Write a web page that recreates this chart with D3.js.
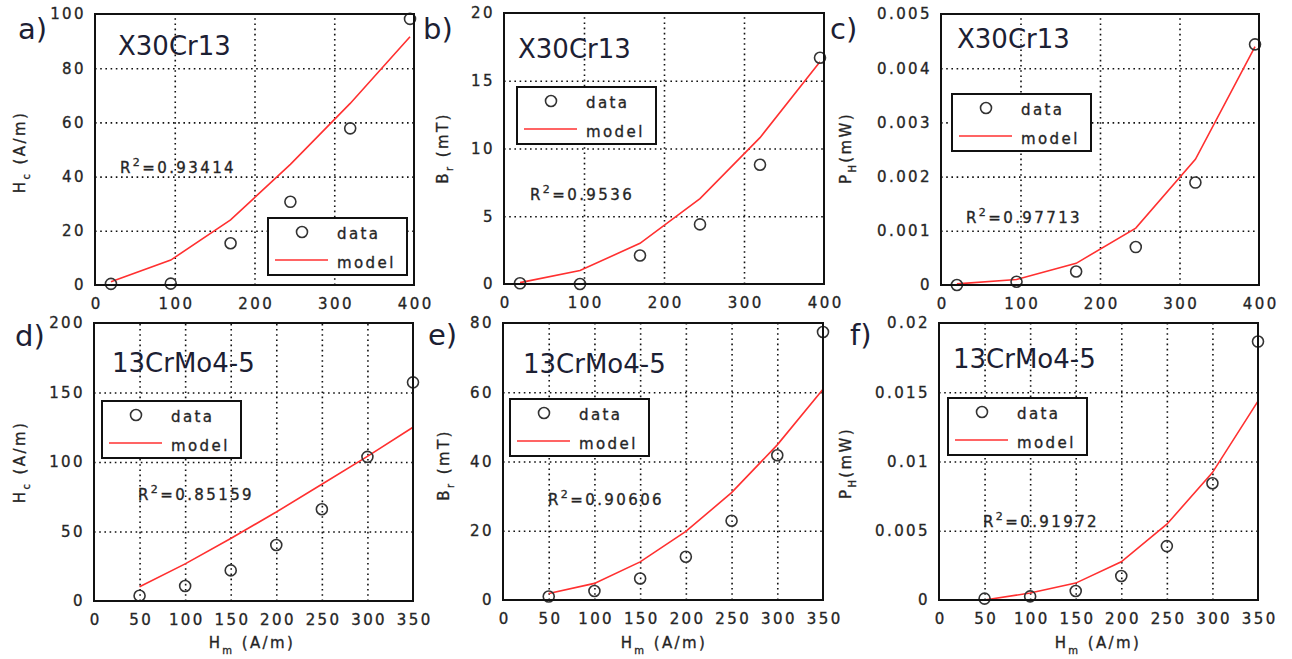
<!DOCTYPE html>
<html>
<head>
<meta charset="utf-8">
<script src="https://cdn.jsdelivr.net/npm/d3@7"></script>
<style>
  body { margin: 0; background: #fff; }
  text { font-family: "DejaVu Sans", sans-serif; }
  .lab { stroke: #333; stroke-width: 0.35px; }
</style>
</head>
<body>
<svg id="chart" width="1292" height="659"></svg>
<script>
// Excitation field values (A/m)
var xTop = [20, 95, 170, 245, 320, 395];
var xBottom = [50, 100, 150, 200, 250, 300, 350];

// X30Cr13
var hcX30Data = [0.4, 0.5, 15.4, 30.7, 57.8, 98.2];
var hcX30Model = [1.2, 9.2, 24, 44.5, 67, 91.6];
var brX30Data = [0.05, 0, 2.1, 4.4, 8.8, 16.7];
var brX30Model = [0.1, 1.0, 3.0, 6.3, 10.8, 16.4];
var phX30Data = [0, 0.00006, 0.00025, 0.0007, 0.00189, 0.00444];
var phX30Model = [0.00002, 0.0001, 0.0004, 0.00105, 0.00232, 0.0044];

// 13CrMo4-5
var hcCrMoData = [3.8, 10.8, 22, 40.3, 66, 103.7, 157.3];
var hcCrMoModel = [10.3, 26.7, 45, 64, 84, 104, 125];
var brCrMoData = [1, 2.6, 6.2, 12.5, 22.9, 41.8, 77.4];
var brCrMoModel = [1.9, 4.8, 11, 19.8, 31, 44.8, 60.9];
var phCrMoData = [0.0001, 0.00026, 0.00065, 0.00173, 0.00389, 0.00843, 0.01866];
var phCrMoModel = [0, 0.0005, 0.00122, 0.00276, 0.00547, 0.0092, 0.01436];

// Tick labels
var xTicksTop = [0, 100, 200, 300, 400];
var xTicksBottom = [0, 50, 100, 150, 200, 250, 300, 350];
var yTicksHc1 = [0, 20, 40, 60, 80, 100];
var yTicksBr1 = [0, 5, 10, 15, 20];
var yTicksPh1 = [0, 0.001, 0.002, 0.003, 0.004, 0.005];
var yTicksHc2 = [0, 50, 100, 150, 200];
var yTicksBr2 = [0, 20, 40, 60, 80];
var yTicksPh2 = [0, 0.005, 0.01, 0.015, 0.02];

var titles = ['X30Cr13', '13CrMo4-5'];
var letters = ['a)', 'b)', 'c)', 'd)', 'e)', 'f)'];
var r2Labels = ['0.93414', '0.9536', '0.97713', '0.85159', '0.90606', '0.91972'];

var panels = [
  {x: xTop, data: hcX30Data, model: hcX30Model, xt: xTicksTop, yt: yTicksHc1, yl: ['H', 'c', ' (A/m)'], title: titles[0]},
  {x: xTop, data: brX30Data, model: brX30Model, xt: xTicksTop, yt: yTicksBr1, yl: ['B', 'r', ' (mT)'], title: titles[0]},
  {x: xTop, data: phX30Data, model: phX30Model, xt: xTicksTop, yt: yTicksPh1, yl: ['P', 'H', '(mW)'], title: titles[0]},
  {x: xBottom, data: hcCrMoData, model: hcCrMoModel, xt: xTicksBottom, yt: yTicksHc2, yl: ['H', 'c', ' (A/m)'], title: titles[1]},
  {x: xBottom, data: brCrMoData, model: brCrMoModel, xt: xTicksBottom, yt: yTicksBr2, yl: ['B', 'r', ' (mT)'], title: titles[1]},
  {x: xBottom, data: phCrMoData, model: phCrMoModel, xt: xTicksBottom, yt: yTicksPh2, yl: ['P', 'H', '(mW)'], title: titles[1]}
];

// Where each panel sits on the page
var layout = [
  {box: [95, 414, 14, 285], legend: [268, 218], title: [118, 55], r2: [120, 173], letter: [18, 39], ylab: [25, 152]},
  {box: [504, 824, 13, 284], legend: [517, 87], title: [518, 58], r2: [530, 200], letter: [423, 39], ylab: [448, 148]},
  {box: [941, 1259, 14, 285], legend: [952, 94], title: [957, 48], r2: [966, 223], letter: [830, 39], ylab: [851, 148]},
  {box: [94, 413, 323, 601], legend: [102, 401], title: [112, 372], r2: [138, 500], letter: [15, 346], ylab: [25, 462], xlab: 252},
  {box: [503, 823, 323, 600], legend: [510, 399], title: [523, 373], r2: [548, 505], letter: [428, 345], ylab: [449, 465], xlab: 664},
  {box: [939, 1258, 323, 600], legend: [948, 398], title: [953, 368], r2: [983, 527], letter: [850, 345], ylab: [851, 463], xlab: 1098}
];

var svg = d3.select('#chart');
var LS = '2.4px';
var inkColor = '#1c2033';

panels.forEach(function(p, i) {
  var L = layout[i];
  var x0 = L.box[0], x1 = L.box[1], y0 = L.box[2], y1 = L.box[3];
  var g = svg.append('g');

  var x = d3.scaleLinear().domain([p.xt[0], p.xt[p.xt.length - 1]]).range([x0, x1]);
  var y = d3.scaleLinear().domain([p.yt[0], p.yt[p.yt.length - 1]]).range([y1, y0]);

  // dotted grid
  var gx = g.append('g')
    .attr('transform', 'translate(0,' + y1 + ')')
    .call(d3.axisBottom(x).tickValues(p.xt.slice(1, -1)).tickSize(-(y1 - y0)).tickFormat(''));
  var gy = g.append('g')
    .attr('transform', 'translate(' + x0 + ',0)')
    .call(d3.axisLeft(y).tickValues(p.yt.slice(1, -1)).tickSize(-(x1 - x0)).tickFormat(''));
  [gx, gy].forEach(function(a) {
    a.select('.domain').remove();
    a.selectAll('line').attr('stroke', '#111').attr('stroke-width', 1.6).attr('stroke-dasharray', '1.6,3.6');
  });

  // tick labels
  var ax = g.append('g')
    .attr('transform', 'translate(0,' + y1 + ')')
    .call(d3.axisBottom(x).tickValues(p.xt).tickSize(0).tickPadding(13).tickFormat(String));
  var ay = g.append('g')
    .attr('transform', 'translate(' + x0 + ',0)')
    .call(d3.axisLeft(y).tickValues(p.yt).tickSize(0).tickPadding(9).tickFormat(String));
  [ax, ay].forEach(function(a) {
    a.select('.domain').remove();
    a.selectAll('text')
      .attr('class', 'lab')
      .attr('font-family', '"DejaVu Sans", sans-serif')
      .attr('font-size', 15)
      .attr('fill', '#222')
      .style('letter-spacing', LS);
  });
  ax.selectAll('text').attr('dx', '1.2');

  // model line
  var line = d3.line()
    .x(function(d, k) { return x(p.x[k]); })
    .y(function(d) { return y(d); });
  g.append('path')
    .datum(p.model)
    .attr('d', line)
    .attr('fill', 'none')
    .attr('stroke', '#ff3030')
    .attr('stroke-width', 1.6);

  // data points
  g.selectAll('circle.pt')
    .data(p.data)
    .enter()
    .append('circle')
    .attr('class', 'pt')
    .attr('cx', function(d, k) { return x(p.x[k]); })
    .attr('cy', function(d) { return y(d); })
    .attr('r', 5.5)
    .attr('fill', 'none')
    .attr('stroke', '#333')
    .attr('stroke-width', 1.6);

  // frame
  g.append('rect')
    .attr('x', x0).attr('y', y0)
    .attr('width', x1 - x0).attr('height', y1 - y0)
    .attr('fill', 'none')
    .attr('stroke', '#111')
    .attr('stroke-width', 2);

  // material title
  g.append('text')
    .attr('x', L.title[0]).attr('y', L.title[1])
    .attr('font-family', '"Open Sans", sans-serif')
    .attr('font-size', 26)
    .attr('fill', inkColor)
    .text(p.title);

  // panel letter
  svg.append('text')
    .attr('x', L.letter[0]).attr('y', L.letter[1])
    .attr('font-family', '"Open Sans", sans-serif')
    .attr('font-size', 29)
    .attr('fill', inkColor)
    .text(letters[i]);

  // R^2 label
  var r2 = g.append('text')
    .attr('class', 'lab')
    .attr('x', L.r2[0]).attr('y', L.r2[1])
    .attr('font-size', 15)
    .attr('fill', '#222')
    .style('letter-spacing', LS);
  r2.append('tspan').text('R');
  r2.append('tspan').attr('font-size', 11).attr('dy', -7).text('2');
  r2.append('tspan').attr('dy', 7).text('=' + r2Labels[i]);

  // legend
  var lg = g.append('g').attr('transform', 'translate(' + L.legend[0] + ',' + L.legend[1] + ')');
  lg.append('rect')
    .attr('width', 139).attr('height', 57)
    .attr('fill', '#fff')
    .attr('stroke', '#111')
    .attr('stroke-width', 2);
  lg.append('circle')
    .attr('cx', 34).attr('cy', 14).attr('r', 5.5)
    .attr('fill', 'none').attr('stroke', '#333').attr('stroke-width', 1.6);
  lg.append('text').attr('class', 'lab').attr('x', 69).attr('y', 21)
    .attr('font-size', 15).attr('fill', '#222').style('letter-spacing', LS).text('data');
  lg.append('line')
    .attr('x1', 7).attr('x2', 60).attr('y1', 42).attr('y2', 42)
    .attr('stroke', '#ff3030').attr('stroke-width', 1.6);
  lg.append('text').attr('class', 'lab').attr('x', 69).attr('y', 50)
    .attr('font-size', 15).attr('fill', '#222').style('letter-spacing', LS).text('model');

  // y label
  var yl = svg.append('text')
    .attr('class', 'lab')
    .attr('transform', 'translate(' + L.ylab[0] + ',' + L.ylab[1] + ') rotate(-90)')
    .attr('text-anchor', 'middle')
    .attr('font-size', 15)
    .attr('fill', '#222')
    .style('letter-spacing', LS);
  yl.append('tspan').text(p.yl[0]);
  yl.append('tspan').attr('font-size', 10).attr('dy', 5).text(p.yl[1]);
  yl.append('tspan').attr('dy', -5).text(p.yl[2]);

  // x label, bottom row only
  if (L.xlab) {
    var xl = svg.append('text')
      .attr('class', 'lab')
      .attr('x', L.xlab).attr('y', 648)
      .attr('text-anchor', 'middle')
      .attr('font-size', 15)
      .attr('fill', '#222')
      .style('letter-spacing', LS);
    xl.append('tspan').text('H');
    xl.append('tspan').attr('font-size', 10).attr('dy', 6).text('m');
    xl.append('tspan').attr('dy', -6).text(' (A/m)');
  }
});
</script>
</body>
</html>
